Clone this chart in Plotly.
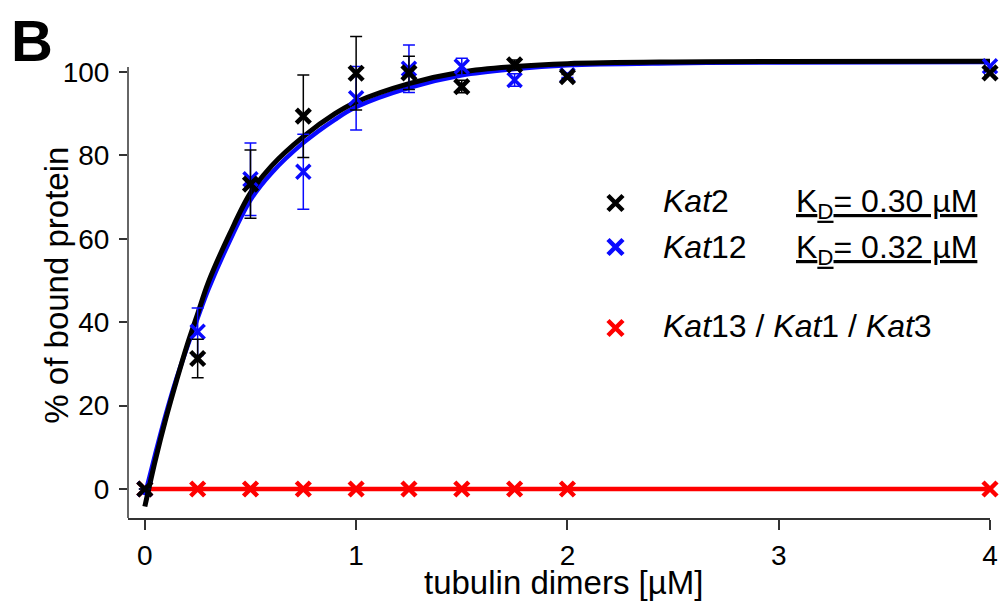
import plotly.graph_objects as go

# ---- data -------------------------------------------------------------
# tubulin dimer concentrations [µM]
conc = [0, 0.25, 0.5, 0.75, 1.0, 1.25, 1.5, 1.75, 2.0, 4.0]

# % of bound protein (mean, SD)
kat2_mean = [0, 31.3, 73.1, 89.4, 99.7, 99.8, 96.5, 101.7, 98.9, 99.8]
kat2_sd = [0, 4.6, 8.2, 9.9, 8.8, 4.0, 1.5, 1.2, 0.5, 0.5]
kat12_mean = [0, 37.7, 74.3, 76.1, 93.7, 100.8, 101.3, 98.1, 99.2, 101.4]
kat12_sd = [0, 5.7, 8.7, 9.0, 7.6, 5.7, 2.0, 1.5, 0.5, 0.5]
kat13_1_3_mean = [0, 0, 0, 0, 0, 0, 0, 0, 0, 0]

# binding-curve fits
fit_conc = [0, 0.05, 0.1, 0.15, 0.2, 0.25, 0.3, 0.4, 0.5, 0.6,
            0.75, 0.9, 1.0, 1.25, 1.5, 1.75, 2.0, 2.5, 3.0, 4.0]
kat2_fit = [-4.2, 7.0, 17.0, 26.0, 34.5, 42.0, 49.5, 61.0, 71.0, 77.5,
            84.5, 90.0, 92.8, 97.2, 100.0, 101.3, 102.0, 102.4, 102.5, 102.6]
kat12_fit = [-1.5, 8.5, 18.0, 26.5, 34.0, 41.0, 47.8, 59.3, 69.3, 75.8,
             83.0, 88.6, 91.6, 96.2, 99.2, 100.7, 101.6, 102.1, 102.3, 102.4]

kd_labels = ["0.30", "0.32"]
x_ticks = [0, 1, 2, 3, 4]
y_ticks = [0, 20, 40, 60, 80, 100]

# ---- layout geometry (pixels) -----------------------------------------
W, H = 1006, 604
ML, MR, MT, MB = 128, 8, 20, 86
X_RANGE = [-0.0797, 4.0]
Y_RANGE = [-6.95, 112.47]
Y_AXIS_TOP = 101.2

FONT = "Liberation Sans, Arial, sans-serif"
BLACK, BLUE, RED = "#000000", "#0a0aff", "#ff0000"
AXIS = "#333333"


def px_x(p):
    return (p - ML) / (W - ML - MR)


def px_y(p):
    return 1 - (p - MT) / (H - MT - MB)


fig = go.Figure()

# non-binding kinesins (flat line at 0)
fig.add_trace(go.Scatter(
    x=conc, y=kat13_1_3_mean, mode="lines+markers",
    line=dict(color=RED, width=4.5),
    marker=dict(symbol="x-thin", size=14, line=dict(color=RED, width=4.5)),
    cliponaxis=False, showlegend=False))

# fitted curves
fig.add_trace(go.Scatter(
    x=fit_conc, y=kat12_fit, mode="lines", line_shape="spline",
    line=dict(color=BLUE, width=4.5), cliponaxis=False, showlegend=False))
fig.add_trace(go.Scatter(
    x=fit_conc, y=kat2_fit, mode="lines", line_shape="spline",
    line=dict(color=BLACK, width=5), cliponaxis=False, showlegend=False))

# measured points with SD
fig.add_trace(go.Scatter(
    x=conc, y=kat12_mean, mode="markers",
    error_y=dict(type="data", array=kat12_sd, color=BLUE, thickness=1.5, width=6),
    marker=dict(symbol="x-thin", size=14, line=dict(color=BLUE, width=3.5)),
    cliponaxis=False, showlegend=False))
fig.add_trace(go.Scatter(
    x=conc, y=kat2_mean, mode="markers",
    error_y=dict(type="data", array=kat2_sd, color=BLACK, thickness=1.5, width=6),
    marker=dict(symbol="x-thin", size=14, line=dict(color=BLACK, width=4.5)),
    cliponaxis=False, showlegend=False))

# legend keys drawn on a pixel-space overlay
key_x = [620, 620, 620]
key_y = [203, 247, 328]
fig.add_trace(go.Scatter(
    x=key_x, y=key_y, mode="markers", xaxis="x2", yaxis="y2",
    marker=dict(symbol="x-thin", size=15,
                line=dict(color=[BLACK, BLUE, RED], width=4.5)),
    showlegend=False, hoverinfo="skip"))

annotations = [
    dict(text="B", x=px_x(8), y=px_y(6), xanchor="left", yanchor="top",
         font=dict(family=FONT, size=58, color="black", weight="bold")),
    dict(text="tubulin dimers [µM]", x=px_x(568), y=px_y(582),
         xanchor="center", yanchor="middle",
         font=dict(family=FONT, size=33, color="black")),
    dict(text="% of bound protein", x=px_x(55), y=px_y(285), textangle=-90,
         xanchor="center", yanchor="middle",
         font=dict(family=FONT, size=33, color="black")),
    dict(text="<i>Kat</i>2", x=px_x(666), y=px_y(201),
         xanchor="left", yanchor="middle",
         font=dict(family=FONT, size=32, color="black")),
    dict(text="<i>Kat</i>12", x=px_x(666), y=px_y(247),
         xanchor="left", yanchor="middle",
         font=dict(family=FONT, size=32, color="black")),
    dict(text="<i>Kat</i>13 / <i>Kat</i>1 / <i>Kat</i>3", x=px_x(666), y=px_y(326),
         xanchor="left", yanchor="middle",
         font=dict(family=FONT, size=32, color="black")),
]
for kd, yy in zip(kd_labels, [201, 247]):
    annotations.append(dict(
        text=f"<u>K<sub>D</sub>= {kd} µM</u>", x=px_x(800), y=px_y(yy + 3),
        xanchor="left", yanchor="middle",
        font=dict(family=FONT, size=32, color="black")))
for a in annotations:
    a.update(xref="paper", yref="paper", showarrow=False)

fig.update_layout(
    width=W, height=H,
    margin=dict(l=ML, r=MR, t=MT, b=MB),
    paper_bgcolor="white", plot_bgcolor="white",
    font=dict(family=FONT, color="black"),
    xaxis=dict(range=X_RANGE, tickvals=x_ticks, ticks="outside", ticklen=10,
               tickwidth=1.5, tickcolor=AXIS, showline=True, linecolor=AXIS,
               linewidth=1.5, showgrid=False, zeroline=False,
               tickfont=dict(family=FONT, size=28, color="black"),
               ticklabelstandoff=2),
    yaxis=dict(range=Y_RANGE, tickvals=y_ticks, ticks="outside", ticklen=8,
               tickwidth=1.5, tickcolor=AXIS, showline=False, showgrid=False,
               zeroline=False,
               tickfont=dict(family=FONT, size=28, color="black"),
               ticklabelstandoff=4),
    xaxis2=dict(overlaying="x", range=[ML, W - MR], visible=False),
    yaxis2=dict(overlaying="y", range=[H - MB, MT], visible=False),
    shapes=[dict(type="line", xref="paper", yref="y", x0=0, x1=0,
                 y0=Y_RANGE[0], y1=Y_AXIS_TOP,
                 line=dict(color=AXIS, width=1.5))],
    annotations=annotations,
)

fig.write_html("out.html")
